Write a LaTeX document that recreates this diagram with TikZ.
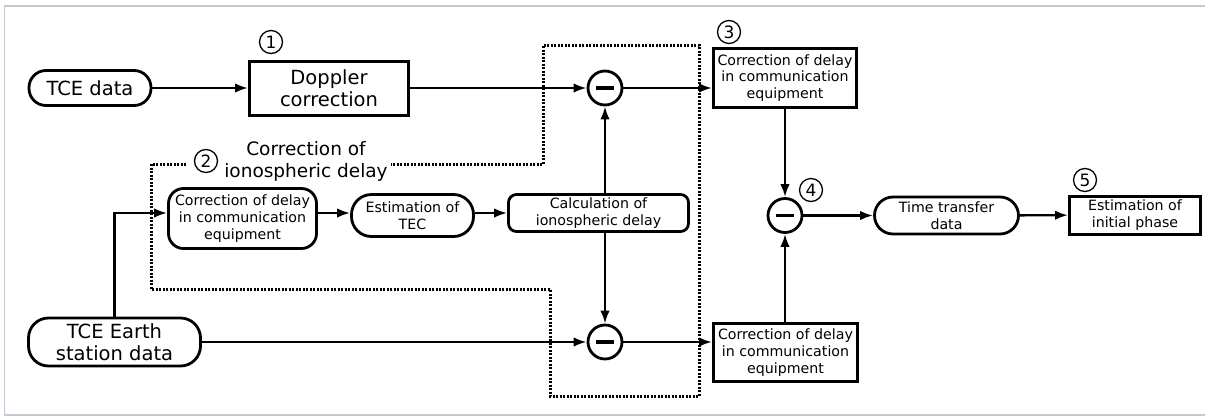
\documentclass[tikz,border=0pt]{standalone}
\usepackage{fontspec}
\setmainfont{DejaVu Sans}
\usetikzlibrary{arrows.meta,calc}
\definecolor{framegray}{RGB}{200,200,210}
\begin{document}
\begin{tikzpicture}[x=1pt,y=-1pt,
  every node/.style={font=\fontsize{14.2}{16.7}\selectfont, align=center, inner sep=0pt},
  big/.style={font=\fontsize{19.5}{22.5}\selectfont},
  sqbox/.style={draw, line width=3pt},
  rbox/.style={draw, line width=2.8pt, rounded corners=#1},
  minus/.style={circle, draw, line width=2.8pt, minimum size=34pt,
    path picture={\draw[line width=3.5pt] ([xshift=-9pt]path picture bounding box.center) -- ([xshift=9pt]path picture bounding box.center);}},
  conn/.style={line width=2.4pt, -{Latex[length=13pt,width=9.5pt]}},
  dots/.style={line width=3pt, dash pattern=on 2pt off 1.5pt},
  num/.style={circle, draw, line width=1.3pt, minimum size=23pt, font=\fontsize{17}{17}\selectfont}
]
\useasboundingbox (0,0) rectangle (1205,416);
\draw[framegray, line width=1.5pt] (1205,6) -- (4.5,6) -- (4.5,415) -- (1205,415);

% nodes
\node[big, rbox=17pt, minimum width=122pt, minimum height=35pt] (tce) at (90,88) {TCE data};
\node[big, sqbox, minimum width=159pt, minimum height=54pt] (dop) at (329,88) {Doppler\\correction};
\node[minus] (m1) at (605,88) {};
\node[sqbox, minimum width=143pt, minimum height=59pt] (c3) at (785,78) {Correction of delay\\in communication\\equipment};
\node[minus] (m4) at (785,215.5) {};
\node[rbox=18.5pt, minimum width=144pt, minimum height=37pt] (ttd) at (946.5,215.5) {Time transfer\\data};
\node[sqbox, minimum width=131pt, minimum height=38pt] (eip) at (1135,215) {Estimation of\\initial phase};
\node[rbox=15pt, minimum width=148pt, minimum height=60pt] (cdl) at (242.5,218.5) {Correction of delay\\in communication\\equipment};
\node[rbox=20pt, minimum width=122pt, minimum height=42pt] (tec) at (412.5,215.5) {Estimation of\\TEC};
\node[rbox=8pt, minimum width=180pt, minimum height=37pt] (calc) at (598.5,213) {Calculation of\\ionospheric delay};
\node[big, rbox=20pt, minimum width=172pt, minimum height=48pt] (earth) at (114.5,342) {TCE Earth\\station data};
\node[minus] (m2) at (605,342) {};
\node[sqbox, minimum width=144pt, minimum height=58pt] (c6) at (785.5,352.5) {Correction of delay\\in communication\\equipment};

% labels
\node[num] (n1) at (271,42) {1};
\node[num] (n2) at (206,161) {2};
\node[num] (n3) at (729,32) {3};
\node[num] (n4) at (811,190) {4};
\node[num] (n5) at (1085,180) {5};
\node[font=\fontsize{18.5}{22}\selectfont] (ion) at (306,161) {Correction of\\ionospheric delay};

% dotted region
\draw[dots] (186,164) -- (151,164) -- (151,289) -- (550,289) -- (550,396) -- (699,396) -- (699,45) -- (543,45) -- (543,164) -- (391,164);

% connectors
\draw[conn] (tce) -- (dop);
\draw[conn] (dop.east) -- (m1.west);
\draw[conn] (m1.east) -- (m1.east -| c3.west);
\draw[conn] (calc.north -| m1) -- (m1.south);
\draw[conn] (calc.south -| m2) -- (m2.north);
\draw[conn] (earth.north) |- (cdl.west |- calc.center);
\draw[conn] (cdl.east |- calc.center) -- (tec.west |- calc.center);
\draw[conn] (tec.east |- calc.center) -- (calc.west);
\draw[conn] (earth.east) -- (m2.west);
\draw[conn] (m2.east) -- (m2.east -| c6.west);
\draw[conn] (c3.south -| m4) -- (m4.north);
\draw[conn] (c6.north -| m4) -- (m4.south);
\draw[conn] (m4.east) -- (ttd.west);
\draw[conn] (ttd) -- (eip);
\end{tikzpicture}
\end{document}
